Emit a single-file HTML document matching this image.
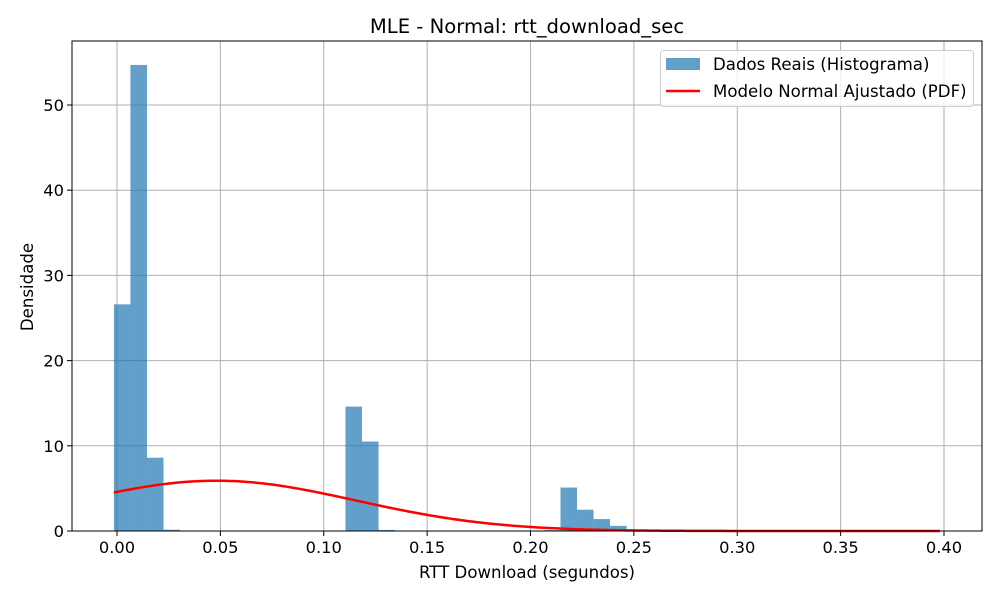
<!DOCTYPE html>
<html><head><meta charset="utf-8"><style>
body{margin:0;background:#fff;font-family:"DejaVu Sans","Liberation Sans",sans-serif}
</style></head><body>
<svg id="c" width="1000" height="600" xmlns="http://www.w3.org/2000/svg" font-family="DejaVu Sans, Liberation Sans, sans-serif">
</svg>
<script>
const binStart = -0.0015;
const binWidth = 0.008;
const densities = [26.6,54.7,8.6,0.15,0,0,0,0,0,0,0,0,0,0,14.6,10.5,0.12,0,0,0,0,0,0,0,0,0,0.1,5.1,2.5,1.4,0.6];
const xTicks = [0,0.05,0.1,0.15,0.2,0.25,0.3,0.35,0.4];
const xTickLabels = ["0.00","0.05","0.10","0.15","0.20","0.25","0.30","0.35","0.40"];
const yTicks = [0,10,20,30,40,50];
const fitMu = 0.048;
const fitSigma = 0.0676;
const fitRange = [-0.0015, 0.398];

const NS="http://www.w3.org/2000/svg";
const svg=document.getElementById('c');
const L=72,R=982,T=41,B=531;
const X=v=>117+(v-0)*(944-117)/0.4;
const Y=v=>531-v*(531-105)/50;
function el(tag,attrs,parent){const e=document.createElementNS(NS,tag);for(const k in attrs)e.setAttribute(k,attrs[k]);(parent||svg).appendChild(e);return e;}

xTicks.forEach((t,i)=>{const g=el('line',{x1:X(t),x2:X(t),y1:T,y2:B,stroke:'#b0b0b0','stroke-width':1});

});
yTicks.forEach(t=>{const g=el('line',{x1:L,x2:R,y1:Y(t),y2:Y(t),stroke:'#b0b0b0','stroke-width':1});

});

densities.forEach((d,i)=>{if(d<=0)return;
const x0=X(binStart+i*binWidth),x1=X(binStart+(i+1)*binWidth);
const r=el('rect',{x:x0,y:Y(d),width:x1-x0,height:Y(0)-Y(d),fill:'#1f77b4','fill-opacity':0.7});

});

let pts=[];
for(let k=0;k<=300;k++){const v=fitRange[0]+(fitRange[1]-fitRange[0])*k/300;
const p=Math.exp(-((v-fitMu)**2)/(2*fitSigma**2))/(fitSigma*Math.sqrt(2*Math.PI));
pts.push(X(v).toFixed(2)+','+Y(p).toFixed(2));}
const pl=el('polyline',{points:pts.join(' '),fill:'none',stroke:'#ff0000','stroke-width':2.5});



const fr=el('rect',{x:L,y:T,width:R-L,height:B-T,fill:'none',stroke:'#000','stroke-width':1});



xTicks.forEach((t,i)=>{el('line',{x1:X(t),x2:X(t),y1:B,y2:B+5,stroke:'#000'});
const tx=el('text',{x:X(t),y:B+22,'text-anchor':'middle','font-size':16.3});tx.textContent=xTickLabels[i];

});
yTicks.forEach(t=>{el('line',{x1:L-5,x2:L,y1:Y(t),y2:Y(t),stroke:'#000'});
const tx=el('text',{x:L-8,y:Y(t)+6,'text-anchor':'end','font-size':16.3});tx.textContent=t;

});

let t=el('text',{x:527,y:33,'text-anchor':'middle','font-size':19.6});t.textContent='MLE - Normal: rtt_download_sec';


t=el('text',{x:527,y:578,'text-anchor':'middle','font-size':16.6});t.textContent='RTT Download (segundos)';


t=el('text',{x:33,y:287,'text-anchor':'middle','font-size':16.6,transform:'rotate(-90 33 287)'});t.textContent='Densidade';



const lg=el('g',{});


el('rect',{x:660.5,y:50.5,width:313,height:56,rx:3,fill:'#fff','fill-opacity':0.8,stroke:'#ccc'},lg);
el('rect',{x:666,y:58,width:34,height:12,fill:'#1f77b4','fill-opacity':0.7},lg);
el('line',{x1:666,x2:700,y1:91,y2:91,stroke:'#ff0000','stroke-width':2.5},lg);
t=el('text',{x:713,y:70,'font-size':16.6},lg);t.textContent='Dados Reais (Histograma)';


t=el('text',{x:713,y:97,'font-size':16.6},lg);t.textContent='Modelo Normal Ajustado (PDF)';


</script>
</body></html>
